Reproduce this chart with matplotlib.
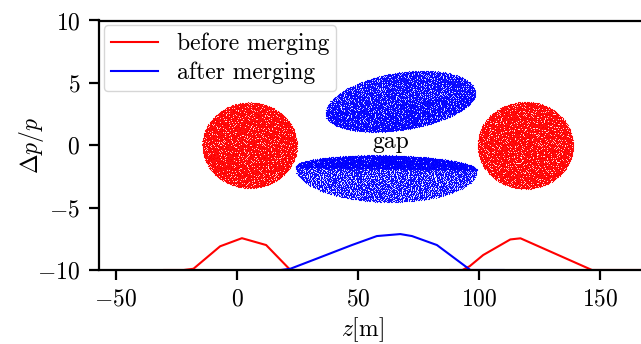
import numpy as np
import matplotlib
matplotlib.use("Agg")
import matplotlib.pyplot as plt

plt.rcParams.update({
    "font.family": "serif",
    "font.serif": ["cmr10"],
    "mathtext.fontset": "cm",
    "axes.formatter.use_mathtext": True,
    "font.size": 17,
})

# line profiles (z [m], dp/p)
before_z1 = [-30, -22, -18, -7, 2, 12, 22, 30]
before_y1 = [-10, -10, -9.9, -8.1, -7.45, -8.0, -10, -10]
before_z2 = [88, 93, 96, 101.6, 112.8, 117, 146.5, 175]
before_y2 = [-10, -10, -9.7, -8.8, -7.55, -7.46, -10, -10]
after_z = [10, 18, 22, 31.4, 47.4, 57.7, 67.4, 72.2, 82.5, 96.3, 100, 110]
after_y = [-10, -10, -9.9, -9.2, -8.0, -7.28, -7.12, -7.28, -8.0, -10, -10, -10]

# particle clouds: centre z, centre y, half-width z, half-height above, half-height below, tilt
red_clouds = [
    (5.2, 0.0, 19.6, 3.45, 3.45, 0.0),
    (119.0, 0.0, 19.8, 3.5, 3.5, 0.0),
]
blue_clouds = [
    (67.4, 3.36, 31.0, 2.5, 2.15, 0.8),
    (61.6, -1.88, 37.6, 1.08, 2.68, -0.12),
]
n_particles = 9000


def halton(n, base):
    out = np.zeros(n)
    for i in range(n):
        f, r, k = 1.0, 0.0, i + 1
        while k > 0:
            f /= base
            r += f * (k % base)
            k //= base
        out[i] = r
    return out


H2 = halton(n_particles, 2)
H3 = halton(n_particles, 3)


def cloud(cz, cy, a, bt, bb, k):
    r = np.sqrt(H2)
    th = 2 * np.pi * H3
    u, v = r * np.cos(th), r * np.sin(th)
    z = cz + a * u
    y = cy + np.where(v > 0, bt, bb) * v + k * u
    return z, y


fig = plt.figure(figsize=(6.41, 3.44), dpi=100)
ax = fig.add_axes([99 / 641, 74 / 344, 562 / 641, 249.5 / 344])

for c in red_clouds:
    z, y = cloud(*c)
    ax.scatter(z, y, s=0.7, c="red", linewidths=0)
for c in blue_clouds:
    z, y = cloud(*c)
    ax.scatter(z, y, s=0.7, c="blue", linewidths=0)

ax.plot(before_z1, before_y1, color="red", lw=1.5, label="before merging")
ax.plot(before_z2, before_y2, color="red", lw=1.5)
ax.plot(after_z, after_y, color="blue", lw=1.5, label="after merging")

ax.text(63.4, 0.3, "gap", ha="center", va="center", fontsize=17)

ax.set_xlim(-57, 175)
ax.set_ylim(-10, 10)
ax.set_xticks([-50, 0, 50, 100, 150])
ax.set_yticks([-10, -5, 0, 5, 10])
for s in ax.spines.values():
    s.set_linewidth(1.6)
ax.tick_params(direction="out", length=7.5, width=1.6, pad=6)
ax.set_xlabel(r"$z[\mathrm{m}]$")
ax.set_ylabel(r"$\Delta p/p$")
ax.xaxis.set_label_coords((362 - 99) / 562, -0.18)
ax.yaxis.set_label_coords(-0.095, 0.5)
ax.legend(loc="upper left", handlelength=2.0, borderaxespad=0.2,
          borderpad=0.3, labelspacing=0.3)

fig.savefig("out.png", dpi=100)
